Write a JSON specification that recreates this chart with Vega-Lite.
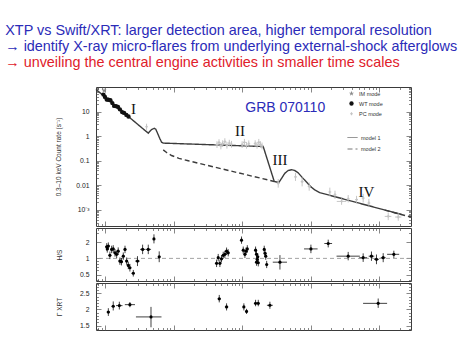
{
"$schema": "https://vega.github.io/schema/vega-lite/v6.json",
"background": "white",
"padding": {"left": 5, "top": 22, "right": 5, "bottom": 5},
"title": {
  "text": ["XTP vs Swift/XRT: larger detection area, higher temporal resolution", "→ identify X-ray micro-flares from underlying external-shock afterglows"],
  "subtitle": "→ unveiling the central engine activities in smaller time scales",
  "anchor": "start", "dx": -50, "offset": 16,
  "font": "Liberation Sans", "fontSize": 14.4, "fontWeight": "normal", "color": "#2b2bb8", "lineHeight": 16.5,
  "subtitleFont": "Liberation Sans", "subtitleFontSize": 14.4, "subtitleColor": "#e0202a", "subtitlePadding": 1, "subtitleLineHeight": 16.5
},
"spacing": 0,
"resolve": {"scale": {"x": "independent", "y": "independent"}},
"datasets": {
  "model": [
    {"t": 74, "rate": 80, "model": "model 1", "seg": "a"},
    {"t": 428, "rate": 1.32, "model": "model 1", "seg": "a"},
    {"t": 473, "rate": 1.8, "model": "model 1", "seg": "a"},
    {"t": 524, "rate": 2.1, "model": "model 1", "seg": "a"},
    {"t": 551, "rate": 1.9, "model": "model 1", "seg": "a"},
    {"t": 584, "rate": 1.32, "model": "model 1", "seg": "a"},
    {"t": 630, "rate": 0.8, "model": "model 1", "seg": "a"},
    {"t": 669, "rate": 0.57, "model": "model 1", "seg": "a"},
    {"t": 707, "rate": 0.52, "model": "model 1", "seg": "a"},
    {"t": 20300, "rate": 0.378, "model": "model 1", "seg": "a"},
    {"t": 29400, "rate": 0.0143, "model": "model 1", "seg": "a"},
    {"t": 34300, "rate": 0.013, "model": "model 1", "seg": "a"},
    {"t": 38000, "rate": 0.02, "model": "model 1", "seg": "a"},
    {"t": 42000, "rate": 0.031, "model": "model 1", "seg": "a"},
    {"t": 47000, "rate": 0.040, "model": "model 1", "seg": "a"},
    {"t": 52500, "rate": 0.043, "model": "model 1", "seg": "a"},
    {"t": 58500, "rate": 0.040, "model": "model 1", "seg": "a"},
    {"t": 65700, "rate": 0.032, "model": "model 1", "seg": "a"},
    {"t": 75000, "rate": 0.021, "model": "model 1", "seg": "a"},
    {"t": 86900, "rate": 0.0135, "model": "model 1", "seg": "a"},
    {"t": 100000, "rate": 0.0088, "model": "model 1", "seg": "a"},
    {"t": 115000, "rate": 0.0064, "model": "model 1", "seg": "a"},
    {"t": 136000, "rate": 0.0050, "model": "model 1", "seg": "a"},
    {"t": 2100000, "rate": 0.00065, "model": "model 1", "seg": "a"},
    {"t": 707, "rate": 0.277, "model": "model 2", "seg": "b"},
    {"t": 800, "rate": 0.21, "model": "model 2", "seg": "b"},
    {"t": 935, "rate": 0.163, "model": "model 2", "seg": "b"},
    {"t": 1200, "rate": 0.125, "model": "model 2", "seg": "b"},
    {"t": 1636, "rate": 0.0995, "model": "model 2", "seg": "b"},
    {"t": 29400, "rate": 0.0143, "model": "model 2", "seg": "b"},
    {"t": 1200000, "rate": 0.00097, "model": "model 2", "seg": "c"},
    {"t": 2900000, "rate": 0.00051, "model": "model 2", "seg": "c"}
  ],
  "pts": [
    {"t": 97, "rate": 72, "mode": "IM mode"},
    {"t": 95, "rate": 49, "mode": "WT mode"},
    {"t": 100, "rate": 39.5, "mode": "WT mode"},
    {"t": 106, "rate": 31, "mode": "WT mode"},
    {"t": 112, "rate": 30.3, "mode": "WT mode"},
    {"t": 120, "rate": 29, "mode": "WT mode"},
    {"t": 128, "rate": 22.2, "mode": "WT mode"},
    {"t": 136, "rate": 17, "mode": "WT mode"},
    {"t": 145, "rate": 16.6, "mode": "WT mode"},
    {"t": 155, "rate": 15.5, "mode": "WT mode"},
    {"t": 165, "rate": 12.3, "mode": "WT mode"},
    {"t": 178, "rate": 9.5, "mode": "WT mode"},
    {"t": 190, "rate": 8.8, "mode": "WT mode"},
    {"t": 205, "rate": 7.3, "mode": "WT mode"},
    {"t": 220, "rate": 6.3, "mode": "WT mode"},
    {"t": 404, "rate": 2.4, "lo": 1.8, "hi": 3.2, "mode": "PC mode"},
    {"t": 4300, "rate": 0.45, "lo": 0.33, "hi": 0.62, "mode": "PC mode"},
    {"t": 4600, "rate": 0.55, "lo": 0.40, "hi": 0.75, "mode": "PC mode"},
    {"t": 4900, "rate": 0.40, "lo": 0.29, "hi": 0.55, "mode": "PC mode"},
    {"t": 5200, "rate": 0.50, "lo": 0.36, "hi": 0.68, "mode": "PC mode"},
    {"t": 5600, "rate": 0.60, "lo": 0.44, "hi": 0.82, "mode": "PC mode"},
    {"t": 6000, "rate": 0.42, "lo": 0.31, "hi": 0.58, "mode": "PC mode"},
    {"t": 6500, "rate": 0.52, "lo": 0.38, "hi": 0.71, "mode": "PC mode"},
    {"t": 7000, "rate": 0.47, "lo": 0.34, "hi": 0.64, "mode": "PC mode"},
    {"t": 10000, "rate": 0.45, "lo": 0.33, "hi": 0.62, "mode": "PC mode"},
    {"t": 10800, "rate": 0.56, "lo": 0.41, "hi": 0.77, "mode": "PC mode"},
    {"t": 11600, "rate": 0.42, "lo": 0.31, "hi": 0.58, "mode": "PC mode"},
    {"t": 12500, "rate": 0.49, "lo": 0.36, "hi": 0.67, "mode": "PC mode"},
    {"t": 15500, "rate": 0.50, "lo": 0.36, "hi": 0.68, "mode": "PC mode"},
    {"t": 16500, "rate": 0.42, "lo": 0.31, "hi": 0.58, "mode": "PC mode"},
    {"t": 17500, "rate": 0.56, "lo": 0.41, "hi": 0.77, "mode": "PC mode"},
    {"t": 18500, "rate": 0.45, "lo": 0.33, "hi": 0.62, "mode": "PC mode"},
    {"t": 19500, "rate": 0.40, "lo": 0.29, "hi": 0.55, "mode": "PC mode"},
    {"t": 33600, "rate": 0.012, "lo": 0.008, "hi": 0.018, "mode": "PC mode"},
    {"t": 60000, "rate": 0.022, "lo": 0.015, "hi": 0.032, "mode": "PC mode"},
    {"t": 75000, "rate": 0.014, "lo": 0.009, "hi": 0.021, "mode": "PC mode"},
    {"t": 95000, "rate": 0.009, "lo": 0.006, "hi": 0.013, "mode": "PC mode"},
    {"t": 190000, "rate": 0.0053, "lo": 0.0035, "hi": 0.008, "mode": "PC mode"},
    {"t": 226000, "rate": 0.0041, "lo": 0.0028, "hi": 0.006, "mode": "PC mode"},
    {"t": 282000, "rate": 0.0022, "lo": 0.0016, "hi": 0.003, "tlo": 240000, "thi": 330000, "mode": "PC mode"},
    {"t": 352000, "rate": 0.0028, "lo": 0.002, "hi": 0.004, "mode": "PC mode"},
    {"t": 466000, "rate": 0.0026, "lo": 0.0018, "hi": 0.0037, "mode": "PC mode"},
    {"t": 582000, "rate": 0.003, "lo": 0.002, "hi": 0.0045, "mode": "PC mode"},
    {"t": 705000, "rate": 0.0019, "lo": 0.0013, "hi": 0.0028, "mode": "PC mode"},
    {"t": 1350000, "rate": 0.00054, "lo": 0.00038, "hi": 0.00078, "tlo": 1200000, "thi": 1500000, "mode": "PC mode"},
    {"t": 1890000, "rate": 0.00051, "lo": 0.00036, "hi": 0.00074, "tlo": 1700000, "thi": 2100000, "mode": "PC mode"}
  ],
  "roman": [
    {"t": 260, "rate": 12.5, "label": "I"},
    {"t": 9290, "rate": 1.6, "label": "II"},
    {"t": 35600, "rate": 0.105, "label": "III"},
    {"t": 650000, "rate": 0.0055, "label": "IV"}
  ],
  "grb": [{"t": 42500, "rate": 13.7, "label": "GRB 070110"}],
  "hs": [
    {"t": 106, "tlo": 101, "thi": 111, "v": 1.64, "vlo": 1.40, "vhi": 1.92},
    {"t": 112, "tlo": 107, "thi": 117, "v": 1.69, "vlo": 1.45, "vhi": 1.98},
    {"t": 108, "tlo": 104, "thi": 113, "v": 1.50, "vlo": 1.28, "vhi": 1.76},
    {"t": 118, "tlo": 113, "thi": 123, "v": 1.14, "vlo": 0.97, "vhi": 1.34},
    {"t": 125, "tlo": 120, "thi": 130, "v": 1.47, "vlo": 1.25, "vhi": 1.72},
    {"t": 132, "tlo": 127, "thi": 137, "v": 1.50, "vlo": 1.28, "vhi": 1.76},
    {"t": 140, "tlo": 134, "thi": 146, "v": 1.27, "vlo": 1.08, "vhi": 1.49},
    {"t": 148, "tlo": 142, "thi": 154, "v": 1.19, "vlo": 1.01, "vhi": 1.40},
    {"t": 156, "tlo": 150, "thi": 163, "v": 1.36, "vlo": 1.16, "vhi": 1.60},
    {"t": 165, "tlo": 158, "thi": 172, "v": 0.89, "vlo": 0.76, "vhi": 1.04},
    {"t": 174, "tlo": 167, "thi": 181, "v": 0.87, "vlo": 0.74, "vhi": 1.02},
    {"t": 185, "tlo": 177, "thi": 193, "v": 1.10, "vlo": 0.94, "vhi": 1.29},
    {"t": 196, "tlo": 188, "thi": 205, "v": 1.47, "vlo": 1.25, "vhi": 1.72},
    {"t": 207, "tlo": 198, "thi": 216, "v": 0.89, "vlo": 0.76, "vhi": 1.04},
    {"t": 219, "tlo": 210, "thi": 228, "v": 0.74, "vlo": 0.63, "vhi": 0.87},
    {"t": 231, "tlo": 222, "thi": 241, "v": 0.67, "vlo": 0.57, "vhi": 0.79},
    {"t": 259, "tlo": 245, "thi": 273, "v": 0.53, "vlo": 0.46, "vhi": 0.61},
    {"t": 298, "tlo": 275, "thi": 322, "v": 0.89, "vlo": 0.72, "vhi": 1.10},
    {"t": 354, "tlo": 325, "thi": 385, "v": 1.47, "vlo": 1.20, "vhi": 1.80},
    {"t": 428, "tlo": 390, "thi": 470, "v": 1.47, "vlo": 1.20, "vhi": 1.80},
    {"t": 518, "tlo": 500, "thi": 536, "v": 2.30, "vlo": 1.90, "vhi": 2.80},
    {"t": 618, "tlo": 595, "thi": 642, "v": 1.07, "vlo": 0.85, "vhi": 1.35},
    {"t": 4240, "tlo": 4100, "thi": 4380, "v": 0.81, "vlo": 0.69, "vhi": 0.95},
    {"t": 4480, "tlo": 4330, "thi": 4630, "v": 1.03, "vlo": 0.88, "vhi": 1.21},
    {"t": 4740, "tlo": 4590, "thi": 4900, "v": 0.81, "vlo": 0.69, "vhi": 0.95},
    {"t": 5000, "tlo": 4840, "thi": 5170, "v": 0.98, "vlo": 0.84, "vhi": 1.15},
    {"t": 5300, "tlo": 5130, "thi": 5480, "v": 1.14, "vlo": 0.98, "vhi": 1.33},
    {"t": 5600, "tlo": 5420, "thi": 5790, "v": 1.19, "vlo": 1.02, "vhi": 1.39},
    {"t": 5930, "tlo": 5740, "thi": 6130, "v": 1.36, "vlo": 1.16, "vhi": 1.59},
    {"t": 6270, "tlo": 6070, "thi": 6480, "v": 1.27, "vlo": 1.09, "vhi": 1.48},
    {"t": 9800, "tlo": 9500, "thi": 10100, "v": 2.18, "vlo": 1.87, "vhi": 2.55},
    {"t": 10380, "tlo": 10050, "thi": 10720, "v": 1.42, "vlo": 1.22, "vhi": 1.66},
    {"t": 10980, "tlo": 10630, "thi": 11340, "v": 1.19, "vlo": 1.02, "vhi": 1.39},
    {"t": 11400, "tlo": 11040, "thi": 11780, "v": 1.36, "vlo": 1.16, "vhi": 1.59},
    {"t": 11900, "tlo": 11520, "thi": 12290, "v": 1.50, "vlo": 1.28, "vhi": 1.76},
    {"t": 15700, "tlo": 15200, "thi": 16200, "v": 1.42, "vlo": 1.22, "vhi": 1.66},
    {"t": 16200, "tlo": 15700, "thi": 16700, "v": 1.19, "vlo": 1.02, "vhi": 1.39},
    {"t": 16600, "tlo": 16100, "thi": 17100, "v": 0.96, "vlo": 0.82, "vhi": 1.12},
    {"t": 17200, "tlo": 16700, "thi": 17700, "v": 0.83, "vlo": 0.71, "vhi": 0.97},
    {"t": 16200, "tlo": 15700, "thi": 16700, "v": 0.85, "vlo": 0.73, "vhi": 0.99},
    {"t": 16900, "tlo": 16400, "thi": 17400, "v": 1.07, "vlo": 0.92, "vhi": 1.25},
    {"t": 21000, "tlo": 20400, "thi": 21600, "v": 1.47, "vlo": 1.26, "vhi": 1.72},
    {"t": 21600, "tlo": 21000, "thi": 22200, "v": 1.24, "vlo": 1.06, "vhi": 1.45},
    {"t": 22100, "tlo": 21500, "thi": 22700, "v": 1.10, "vlo": 0.94, "vhi": 1.29},
    {"t": 22800, "tlo": 22200, "thi": 23400, "v": 0.77, "vlo": 0.66, "vhi": 0.90},
    {"t": 35600, "tlo": 28000, "thi": 45100, "v": 0.85, "vlo": 0.62, "vhi": 1.15},
    {"t": 100700, "tlo": 80000, "thi": 126000, "v": 1.50, "vlo": 1.25, "vhi": 1.80},
    {"t": 180000, "tlo": 158000, "thi": 205000, "v": 1.89, "vlo": 1.60, "vhi": 2.23},
    {"t": 352000, "tlo": 238000, "thi": 521000, "v": 1.10, "vlo": 0.92, "vhi": 1.32},
    {"t": 582000, "tlo": 510000, "thi": 665000, "v": 1.03, "vlo": 0.86, "vhi": 1.24},
    {"t": 769000, "tlo": 700000, "thi": 845000, "v": 1.10, "vlo": 0.90, "vhi": 1.34},
    {"t": 910000, "tlo": 840000, "thi": 985000, "v": 0.96, "vlo": 0.78, "vhi": 1.18},
    {"t": 1140000, "tlo": 1050000, "thi": 1240000, "v": 1.03, "vlo": 0.85, "vhi": 1.25},
    {"t": 1630000, "tlo": 1300000, "thi": 1950000, "v": 1.19, "vlo": 1.02, "vhi": 1.39}
  ],
  "gam": [
    {"t": 112, "tlo": 106, "thi": 118, "g": 1.92, "glo": 1.80, "ghi": 2.04},
    {"t": 132, "tlo": 125, "thi": 139, "g": 2.10, "glo": 1.97, "ghi": 2.25},
    {"t": 162, "tlo": 145, "thi": 180, "g": 2.12, "glo": 2.00, "ghi": 2.24},
    {"t": 231, "tlo": 195, "thi": 274, "g": 2.15, "glo": 2.07, "ghi": 2.23},
    {"t": 469, "tlo": 283, "thi": 667, "g": 1.77, "glo": 1.45, "ghi": 2.08},
    {"t": 4640, "tlo": 4400, "thi": 4900, "g": 2.33, "glo": 2.22, "ghi": 2.45},
    {"t": 5930, "tlo": 5600, "thi": 6280, "g": 2.08, "glo": 1.97, "ghi": 2.19},
    {"t": 10600, "tlo": 10200, "thi": 11000, "g": 2.08, "glo": 1.97, "ghi": 2.19},
    {"t": 11600, "tlo": 11200, "thi": 12000, "g": 1.94, "glo": 1.86, "ghi": 2.02},
    {"t": 15700, "tlo": 15300, "thi": 16100, "g": 2.19, "glo": 2.10, "ghi": 2.30},
    {"t": 17200, "tlo": 16800, "thi": 17600, "g": 2.19, "glo": 2.10, "ghi": 2.30},
    {"t": 25400, "tlo": 23000, "thi": 28000, "g": 2.13, "glo": 2.02, "ghi": 2.24},
    {"t": 964000, "tlo": 580000, "thi": 1300000, "g": 2.19, "glo": 2.05, "ghi": 2.34}
  ]
},
"vconcat": [
  {
    "width": 315, "height": 139,
    "resolve": {"axis": {"x": "independent", "y": "independent"}},
    "layer": [
      {
        "data": {"name": "model"},
        "mark": {"type": "line", "color": "#3c3c3c", "strokeWidth": 1.4},
        "encoding": {
          "x": {"field": "t", "type": "quantitative", "scale": {"type": "log", "domain": [74, 2900000], "nice": false},
                "axis": {"orient": "bottom", "labels": false, "title": null, "values": [80,90,100,200,300,400,500,600,700,800,900,1000,2000,3000,4000,5000,6000,7000,8000,9000,10000,20000,30000,40000,50000,60000,70000,80000,90000,100000,200000,300000,400000,500000,600000,700000,800000,900000,1000000,2000000],
                         "tickSize": {"condition": {"test": "abs(log(datum.value)/LN10-round(log(datum.value)/LN10))<0.001", "value": -5}, "value": -2.5}}},
          "y": {"field": "rate", "type": "quantitative", "scale": {"type": "log", "domain": [0.00022, 100], "nice": false},
                "axis": {"orient": "left", "title": "0.3–10 keV Count rate (s⁻¹)", "titlePadding": 14, "labelPadding": 12,
                         "values": [0.0003,0.0004,0.0005,0.0006,0.0007,0.0008,0.0009,0.001,0.002,0.003,0.004,0.005,0.006,0.007,0.008,0.009,0.01,0.02,0.03,0.04,0.05,0.06,0.07,0.08,0.09,0.1,0.2,0.3,0.4,0.5,0.6,0.7,0.8,0.9,1,2,3,4,5,6,7,8,9,10,20,30,40,50,60,70,80,90],
                         "labelExpr": "abs(datum.value-10)<1e-6 ? '10' : abs(datum.value-1)<1e-7 ? '1' : abs(datum.value-0.1)<1e-8 ? '0.1' : abs(datum.value-0.01)<1e-9 ? '0.01' : abs(datum.value-0.001)<1e-10 ? '10⁻³' : ''",
                         "tickSize": {"condition": {"test": "abs(log(datum.value)/LN10-round(log(datum.value)/LN10))<0.001", "value": -5}, "value": -2.5}}},
          "strokeDash": {"field": "model", "type": "nominal", "scale": {"domain": ["model 1", "model 2"], "range": [[1, 0], [5, 3]]},
                         "legend": {"orient": "none", "legendX": 251, "legendY": 45, "title": null, "padding": 0, "labelFontSize": 5.5, "labelColor": "#333", "labelFont": "Liberation Sans", "symbolType": "stroke", "symbolSize": 100, "symbolStrokeColor": "#777", "symbolStrokeWidth": 1, "rowPadding": 2.5, "labelOffset": 3}},
          "detail": {"field": "seg", "type": "nominal"}
        }
      },
      {
        "data": {"name": "pts"},
        "mark": {"type": "rule", "color": "#b8b8b8", "strokeWidth": 0.8},
        "encoding": {
          "x": {"field": "t", "type": "quantitative",
                "axis": {"orient": "top", "labels": false, "title": null, "values": [80,90,100,200,300,400,500,600,700,800,900,1000,2000,3000,4000,5000,6000,7000,8000,9000,10000,20000,30000,40000,50000,60000,70000,80000,90000,100000,200000,300000,400000,500000,600000,700000,800000,900000,1000000,2000000],
                         "tickSize": {"condition": {"test": "abs(log(datum.value)/LN10-round(log(datum.value)/LN10))<0.001", "value": -5}, "value": -2.5}}},
          "y": {"field": "lo", "type": "quantitative",
                "axis": {"orient": "right", "labels": false, "title": null,
                         "values": [0.0003,0.0004,0.0005,0.0006,0.0007,0.0008,0.0009,0.001,0.002,0.003,0.004,0.005,0.006,0.007,0.008,0.009,0.01,0.02,0.03,0.04,0.05,0.06,0.07,0.08,0.09,0.1,0.2,0.3,0.4,0.5,0.6,0.7,0.8,0.9,1,2,3,4,5,6,7,8,9,10,20,30,40,50,60,70,80,90],
                         "tickSize": {"condition": {"test": "abs(log(datum.value)/LN10-round(log(datum.value)/LN10))<0.001", "value": -5}, "value": -2.5}}},
          "y2": {"field": "hi"}
        }
      },
      {
        "data": {"name": "pts"},
        "mark": {"type": "rule", "color": "#b8b8b8", "strokeWidth": 0.8},
        "encoding": {
          "x": {"field": "tlo", "type": "quantitative", "axis": null},
          "x2": {"field": "thi"},
          "y": {"field": "rate", "type": "quantitative", "axis": null}
        }
      },
      {
        "data": {"name": "pts"},
        "mark": {"type": "point", "filled": true, "opacity": 1},
        "encoding": {
          "x": {"field": "t", "type": "quantitative", "axis": null},
          "y": {"field": "rate", "type": "quantitative", "axis": null},
          "shape": {"field": "mode", "type": "nominal", "scale": {"domain": ["IM mode", "WT mode", "PC mode"], "range": ["M0,-1L0.224,-0.309L0.951,-0.309L0.363,0.118L0.588,0.809L0,0.382L-0.588,0.809L-0.363,0.118L-0.951,-0.309L-0.224,-0.309Z", "circle", "cross"]},
                    "legend": {"orient": "none", "legendX": 252, "legendY": 3, "title": null, "padding": 0, "labelFontSize": 5.5, "labelColor": "#333", "labelFont": "Liberation Sans", "symbolSize": 8, "rowPadding": 3.5, "labelOffset": 4}},
          "color": {"field": "mode", "type": "nominal", "scale": {"domain": ["IM mode", "WT mode", "PC mode"], "range": ["#8a8a8a", "#111111", "#c4c4c4"]},
                    "legend": {"orient": "none", "legendX": 252, "legendY": 3, "title": null, "padding": 0, "labelFontSize": 5.5, "labelColor": "#333", "labelFont": "Liberation Sans", "symbolSize": 8, "rowPadding": 3.5, "labelOffset": 4}},
          "size": {"field": "mode", "type": "nominal", "scale": {"domain": ["IM mode", "WT mode", "PC mode"], "range": [30, 8, 10]}, "legend": null}
        }
      },
      {
        "data": {"name": "roman"},
        "mark": {"type": "text", "font": "Liberation Serif", "fontSize": 15, "color": "#111", "align": "center", "baseline": "middle"},
        "encoding": {
          "x": {"field": "t", "type": "quantitative", "axis": null},
          "y": {"field": "rate", "type": "quantitative", "axis": null},
          "text": {"field": "label", "type": "nominal"}
        }
      },
      {
        "data": {"name": "grb"},
        "mark": {"type": "text", "font": "Liberation Sans", "fontSize": 14, "color": "#2b2bb8", "align": "center", "baseline": "middle"},
        "encoding": {
          "x": {"field": "t", "type": "quantitative", "axis": null},
          "y": {"field": "rate", "type": "quantitative", "axis": null},
          "text": {"field": "label", "type": "nominal"}
        }
      }
    ]
  },
  {
    "width": 315, "height": 53,
    "resolve": {"axis": {"x": "independent", "y": "independent"}},
    "layer": [
      {
        "data": {"values": [{"v": 1}]},
        "mark": {"type": "rule", "color": "#999", "strokeDash": [4, 3], "strokeWidth": 0.9},
        "encoding": {"y": {"field": "v", "type": "quantitative", "axis": null}}
      },
      {
        "data": {"name": "hs"},
        "mark": {"type": "rule", "color": "#111", "strokeWidth": 0.8},
        "encoding": {
          "x": {"field": "t", "type": "quantitative", "scale": {"type": "log", "domain": [74, 2900000], "nice": false},
                "axis": {"orient": "top", "labels": false, "title": null, "values": [80,90,100,200,300,400,500,600,700,800,900,1000,2000,3000,4000,5000,6000,7000,8000,9000,10000,20000,30000,40000,50000,60000,70000,80000,90000,100000,200000,300000,400000,500000,600000,700000,800000,900000,1000000,2000000],
                         "tickSize": {"condition": {"test": "abs(log(datum.value)/LN10-round(log(datum.value)/LN10))<0.001", "value": -5}, "value": -2.5}}},
          "y": {"field": "vlo", "type": "quantitative", "scale": {"type": "log", "domain": [0.38, 3.67], "nice": false},
                "axis": {"orient": "right", "labels": false, "title": null, "values": [0.4,0.5,0.6,0.7,0.8,0.9,1,2,3],
                         "tickSize": {"condition": {"test": "datum.value==0.5||datum.value==1||datum.value==2", "value": -5}, "value": -2.5}}},
          "y2": {"field": "vhi"}
        }
      },
      {
        "data": {"name": "hs"},
        "mark": {"type": "rule", "color": "#111", "strokeWidth": 0.8},
        "encoding": {
          "x": {"field": "tlo", "type": "quantitative",
                "axis": {"orient": "bottom", "labels": false, "title": null, "values": [80,90,100,200,300,400,500,600,700,800,900,1000,2000,3000,4000,5000,6000,7000,8000,9000,10000,20000,30000,40000,50000,60000,70000,80000,90000,100000,200000,300000,400000,500000,600000,700000,800000,900000,1000000,2000000],
                         "tickSize": {"condition": {"test": "abs(log(datum.value)/LN10-round(log(datum.value)/LN10))<0.001", "value": -5}, "value": -2.5}}},
          "x2": {"field": "thi"},
          "y": {"field": "v", "type": "quantitative",
                "axis": {"orient": "left", "title": "H/S", "titlePadding": 17, "labelPadding": 12, "values": [0.4,0.5,0.6,0.7,0.8,0.9,1,2,3],
                         "labelExpr": "datum.value==2 ? '2' : datum.value==1 ? '1' : datum.value==0.5 ? '0.5' : ''",
                         "tickSize": {"condition": {"test": "datum.value==0.5||datum.value==1||datum.value==2", "value": -5}, "value": -2.5}}}
        }
      },
      {
        "data": {"name": "hs"},
        "mark": {"type": "point", "filled": true, "color": "#000", "size": 10, "opacity": 1},
        "encoding": {
          "x": {"field": "t", "type": "quantitative", "axis": null},
          "y": {"field": "v", "type": "quantitative", "axis": null}
        }
      }
    ]
  },
  {
    "width": 315, "height": 47,
    "resolve": {"axis": {"x": "independent", "y": "independent"}},
    "layer": [
      {
        "data": {"name": "gam"},
        "mark": {"type": "rule", "color": "#111", "strokeWidth": 0.8},
        "encoding": {
          "x": {"field": "t", "type": "quantitative", "scale": {"type": "log", "domain": [74, 2900000], "nice": false},
                "axis": {"orient": "top", "labels": false, "title": null, "values": [80,90,100,200,300,400,500,600,700,800,900,1000,2000,3000,4000,5000,6000,7000,8000,9000,10000,20000,30000,40000,50000,60000,70000,80000,90000,100000,200000,300000,400000,500000,600000,700000,800000,900000,1000000,2000000],
                         "tickSize": {"condition": {"test": "abs(log(datum.value)/LN10-round(log(datum.value)/LN10))<0.001", "value": -5}, "value": -2.5}}},
          "y": {"field": "glo", "type": "quantitative", "scale": {"domain": [1.365, 2.82], "nice": false, "zero": false},
                "axis": {"orient": "right", "labels": false, "title": null, "values": [1.4,1.5,1.6,1.7,1.8,1.9,2,2.1,2.2,2.3,2.4,2.5,2.6,2.7,2.8],
                         "tickSize": {"condition": {"test": "datum.value==1.5||datum.value==2||datum.value==2.5", "value": -5}, "value": -2.5}}},
          "y2": {"field": "ghi"}
        }
      },
      {
        "data": {"name": "gam"},
        "mark": {"type": "rule", "color": "#111", "strokeWidth": 0.8},
        "encoding": {
          "x": {"field": "tlo", "type": "quantitative",
                "axis": {"orient": "bottom", "labels": false, "title": null, "values": [80,90,100,200,300,400,500,600,700,800,900,1000,2000,3000,4000,5000,6000,7000,8000,9000,10000,20000,30000,40000,50000,60000,70000,80000,90000,100000,200000,300000,400000,500000,600000,700000,800000,900000,1000000,2000000],
                         "tickSize": {"condition": {"test": "abs(log(datum.value)/LN10-round(log(datum.value)/LN10))<0.001", "value": -5}, "value": -2.5}}},
          "x2": {"field": "thi"},
          "y": {"field": "g", "type": "quantitative",
                "axis": {"orient": "left", "title": "Γ XRT", "titlePadding": 17, "labelPadding": 12, "values": [1.4,1.5,1.6,1.7,1.8,1.9,2,2.1,2.2,2.3,2.4,2.5,2.6,2.7,2.8],
                         "labelExpr": "datum.value==2 ? '2' : datum.value==1.5 ? '1.5' : datum.value==2.5 ? '2.5' : ''",
                         "tickSize": {"condition": {"test": "datum.value==1.5||datum.value==2||datum.value==2.5", "value": -5}, "value": -2.5}}}
        }
      },
      {
        "data": {"name": "gam"},
        "mark": {"type": "point", "filled": true, "color": "#000", "size": 10, "opacity": 1},
        "encoding": {
          "x": {"field": "t", "type": "quantitative", "axis": null},
          "y": {"field": "g", "type": "quantitative", "axis": null}
        }
      }
    ]
  }
],
"config": {
  "view": {"stroke": "#3a3a3a", "strokeWidth": 1},
  "axis": {"grid": false, "domain": false, "tickColor": "#555", "tickWidth": 0.7, "labelFont": "Liberation Sans", "labelFontSize": 6.8, "labelColor": "#222", "titleFont": "Liberation Sans", "titleFontSize": 6.5, "titleFontWeight": "normal", "titleColor": "#333"}
}
}
